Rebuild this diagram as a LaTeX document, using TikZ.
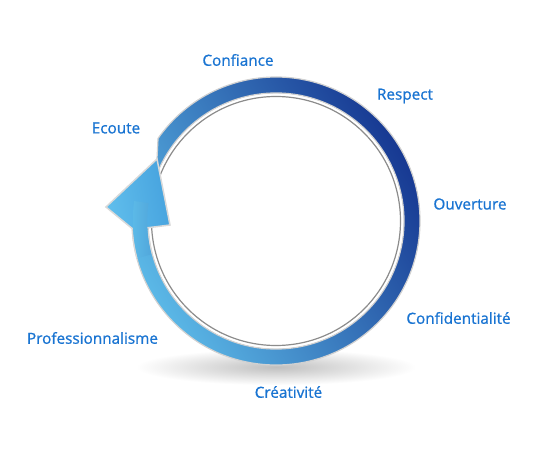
\documentclass[tikz,border=0pt]{standalone}
\usepackage{fontspec}
\setmainfont{Open Sans}
\newfontfamily\lblfont{Open Sans}[FakeBold=0.9]
\definecolor{lbl}{RGB}{25,116,210}
\definecolor{ringlight}{RGB}{92,186,232}
\definecolor{ringdark}{RGB}{22,55,145}
\definecolor{headlight}{RGB}{96,190,236}
\definecolor{headdark}{RGB}{70,162,222}
\pgfdeclareradialshading{discshade}{\pgfpoint{0bp}{0bp}}{%
  color(0bp)=(white); color(28bp)=(white); color(40bp)=(black!4);
  color(47bp)=(black!9); color(50bp)=(black!17)}
\tikzset{
  value/.style={text=lbl, font=\lblfont\fontsize{15.3}{17}\selectfont, inner sep=0pt},
}
\begin{document}
\begin{tikzpicture}[x=1pt,y=1pt]
\useasboundingbox[fill=white] (-276,-229) rectangle (274,221);
\coordinate (c) at (0,0);
\coordinate (apex) at (-119,62);

% soft shadow under the ring
\shade[inner color=black!25, outer color=white] (0,-146) ellipse (140 and 18);

% ring, its tail running into the arrow tip
\shade[left color=ringlight, right color=ringdark, shading angle=120,
  draw=black!18, line width=1.2]
  (176:144) arc[start angle=176, end angle=505, radius=144]
  -- (apex) -- (517:128) arc[start angle=517, end angle=176, radius=128] -- cycle;

% inner disc
\fill[white] (c) circle (127);
\shade[shading=discshade] (c) circle (124);
\draw[black!45, line width=1.2] (c) circle (124.5);
\draw[white, line width=1] (c) circle (126.3);

% arrowhead
\shade[left color=headlight, right color=headdark, shading angle=100,
  draw=black!15, line width=1.5, line join=miter]
  (apex) -- (-170,14) -- (183:144) -- (183:128) -- (-106,-4) -- cycle;
\shade[left color=ringlight, right color=ringlight!85!ringdark, shading angle=90]
  (172:143.2) arc[start angle=172, end angle=195, radius=143.2]
  -- (195:128.8) arc[start angle=195, end angle=172, radius=128.8] -- cycle;
\draw[black!15, line width=1.2] (184:144) arc[start angle=184, end angle=195, radius=144];
\draw[black!15, line width=1.2] (184:128) arc[start angle=184, end angle=195, radius=128];

% labels
\node[value] (confiance) at (-38,161) {Confiance};
\node[value] (respect) at (129,125) {Respect};
\node[value] (ecoute) at (-160,93) {Ecoute};
\node[value] (ouverture) at (194,17) {Ouverture};
\node[value] (confid) at (182.5,-97) {Confidentialité};
\node[value] (prof) at (-183.5,-117) {Professionnalisme};
\node[value] (creat) at (12.5,-171) {Créativité};
\end{tikzpicture}
\end{document}
